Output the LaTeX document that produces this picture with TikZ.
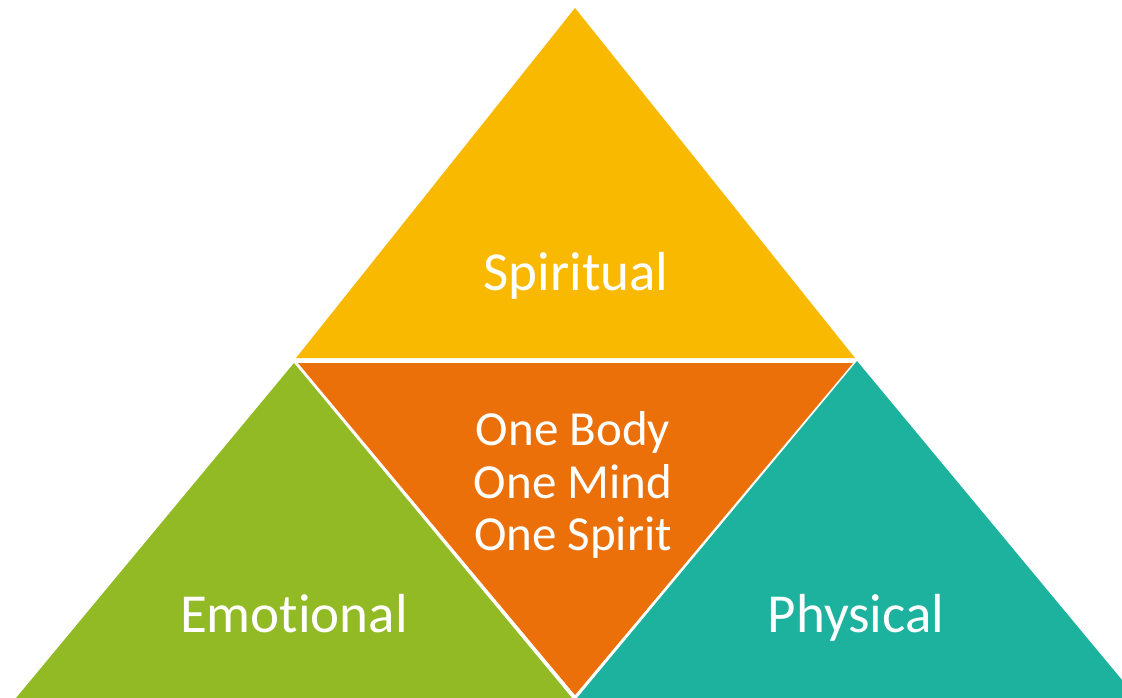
\documentclass[tikz,border=0pt]{standalone}
\usepackage{fontspec}
\setmainfont{Carlito}[Ligatures={NoCommon}]
\definecolor{cyellow}{RGB}{248,185,0}
\definecolor{corange}{RGB}{236,112,10}
\definecolor{cgreen}{RGB}{146,186,37}
\definecolor{cteal}{RGB}{28,178,158}
\begin{document}
\begin{tikzpicture}[x=1pt,y=-1pt,
  lbl/.style={text=white,font=\fontsize{55}{60}\selectfont,anchor=base,inner sep=0pt},
  clbl/.style={text=white,font=\fontsize{49}{52}\selectfont,anchor=base,inner sep=0pt}]
\useasboundingbox (0,0) rectangle (1122,698);
\clip (0,0) rectangle (1122,698);
\fill[cyellow] (575,8) -- (296,358) -- (855,358) -- cycle;
\fill[cgreen] (294,363) -- (16,698) -- (572,698) -- cycle;
\fill[corange] (298,363) -- (853,363) -- (575,695) -- cycle;
\fill[cteal] (857,361) -- (577,698) -- (1137,698) -- cycle;
\node[lbl] (sp) at (576,290) {Spiritual};
\node[lbl] (em) at (294,632) {Emotional};
\node[lbl] (ph) at (856,632) {Physical};
\node[clbl] (l1) at (573,445) {One Body};
\node[clbl] (l2) at (573,498) {One Mind};
\node[clbl] (l3) at (573,550) {One Spirit};
\end{tikzpicture}
\end{document}
